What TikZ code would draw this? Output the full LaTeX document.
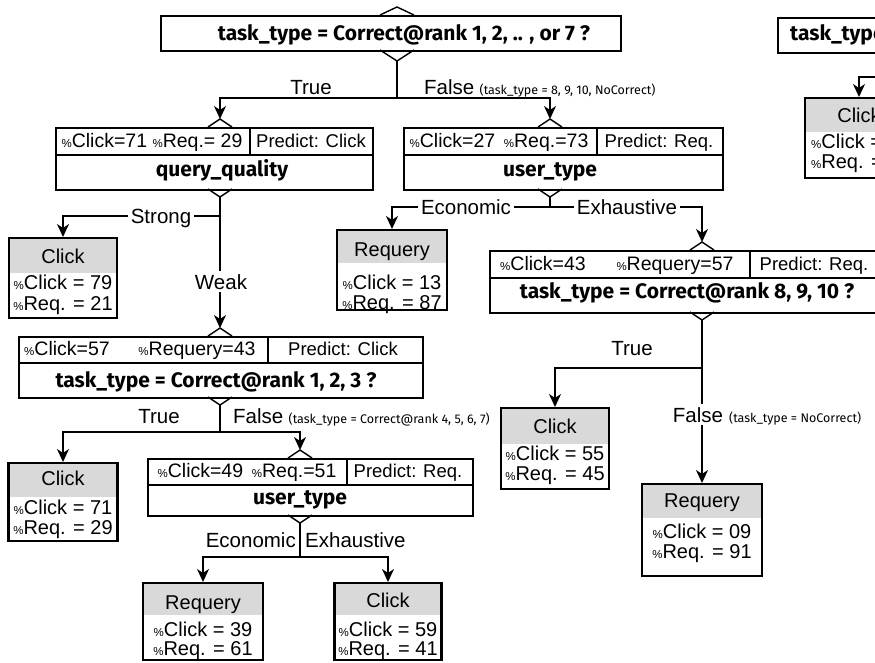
\documentclass[tikz,border=0pt]{standalone}
\usepackage{fontspec}
\setmainfont{Liberation Sans}
\newfontfamily\attrfont{Fira Sans}
\usetikzlibrary{arrows.meta}
\definecolor{leafhead}{HTML}{D9D9D9}
\newcommand{\pct}{{\fontsize{11.5}{11.5}\selectfont\%}}

\begin{document}
\begin{tikzpicture}[
  x=1pt,
  y=-1pt,
  line join=miter,
  decbox/.style={draw,line width=2.3pt,inner sep=0pt,anchor=north west},
  leafbox/.style={draw,line width=2.3pt,inner sep=0pt,anchor=north},
  divider/.style={line width=1.2pt},
  chev/.style={line width=1.4pt},
  link/.style={line width=1.8pt},
  arrow/.style={link,-{Stealth[length=13pt,width=12pt,inset=4pt]}},
  stat/.style={font=\fontsize{19.5}{22}\selectfont,inner sep=0pt,anchor=base},
  pred/.style={stat,font=\fontsize{18.5}{22}\selectfont},
  leaftext/.style={stat,font=\fontsize{20}{22}\selectfont},
  attr/.style={font=\attrfont\bfseries\fontsize{21}{24}\selectfont,inner sep=0pt,anchor=base},
  branch/.style={font=\fontsize{20.5}{22}\selectfont,inner sep=3pt,fill=white,anchor=base},
  note/.style={font=\attrfont\fontsize{12.5}{14}\selectfont,inner sep=0pt,anchor=base west}
]
  \useasboundingbox (0,0) rectangle (875,662);
  \clip (0,0) rectangle (875,662);

  % Decision boxes.
  \node[decbox,minimum width=460,minimum height=35] (root) at (160,15) {};
  \node[decbox,minimum width=317,minimum height=62] (qq) at (55,127) {};
  \node[decbox,minimum width=319,minimum height=62] (ut1) at (403,127) {};
  \node[decbox,minimum width=389,minimum height=62] (tt2) at (489,250) {};
  \node[decbox,minimum width=404,minimum height=61] (tt1) at (18,336) {};
  \node[decbox,minimum width=325,minimum height=57] (ut2) at (147,458) {};
  \node[decbox,minimum width=300,minimum height=35] (root2) at (777,17) {};

  % Stats row / predict cell split.
  \draw[divider] (55,155) -- (372,155) (250,127) -- (250,155);
  \draw[divider] (403,155) -- (722,155) (597,127) -- (597,155);
  \draw[divider] (489,278) -- (878,278) (750,250) -- (750,278);
  \draw[divider] (18,363) -- (422,363) (268,336) -- (268,363);
  \draw[divider] (147,485) -- (472,485) (347,458) -- (347,485);

  % Chevrons in and out of every decision box.
  \foreach \n/\cx/\yt/\yb/\hw/\hb in {root/397/15/50/17/11,qq/220/127/189/12/8,
      ut1/550/127/189/12/8,tt2/702/250/312/12/8,tt1/220/336/397/12/8,ut2/300/458/515/12/8} {
    \draw[chev] (\cx-\hw,\yt) -- (\cx,\yt-8) -- (\cx+\hw,\yt);
    \draw[chev] (\cx-\hw,\yb) -- (\cx,\yb+\hb) -- (\cx+\hw,\yb);
    \coordinate (\n-in) at (\cx,\yt-8);
    \coordinate (\n-out) at (\cx,\yb+\hb);
  }

  % Box texts.
  \node[attr] (root-attr) at (404,40) {task\_type = Correct@rank 1, 2, .. , or 7 ?};
  \node[attr,anchor=base west] (root2-attr) at (790,40) {task\_type};

  \node[stat] (qq-stats) at (152,147) {\pct Click=71 \pct Req.= 29};
  \node[pred] (qq-pred) at (311,147) {Predict: Click};
  \node[attr] (qq-attr) at (222,176) {query\_quality};

  \node[stat] (ut1-stats) at (499,147) {\pct Click=27 \,\pct Req.=73};
  \node[pred] (ut1-pred) at (659,147) {Predict: Req.};
  \node[attr] (ut1-attr) at (550,176) {user\_type};

  \node[stat] (tt2-click) at (543,270) {\pct Click=43};
  \node[stat] (tt2-req) at (675,270) {\pct Requery=57};
  \node[pred] (tt2-pred) at (814,270) {Predict: Req.};
  \node[attr] (tt2-attr) at (687,298) {task\_type = Correct@rank 8, 9, 10 ?};

  \node[stat] (tt1-click) at (67,355) {\pct Click=57};
  \node[stat] (tt1-req) at (197,355) {\pct Requery=43};
  \node[pred] (tt1-pred) at (343,355) {Predict: Click};
  \node[attr] (tt1-attr) at (216,387) {task\_type = Correct@rank 1, 2, 3 ?};

  \node[stat] (ut2-stats) at (247,477) {\pct Click=49 \,\pct Req.=51};
  \node[pred] (ut2-pred) at (408,477) {Predict: Req.};
  \node[attr] (ut2-attr) at (300,504) {user\_type};

  % Leaves: grey class header over the two percentages.
  \foreach \n/\cx/\w/\ya/\yh/\yb/\bh/\ba/\bb/\lab/\vclick/\vreq in {
      L1/63/108/237/273/317/263/289/310/Click/79/21,
      L2/392/110/229/263/309/256/289/309/Requery/13/87,
      L3/555/108/407/444/488/433/460/480/Click/55/45,
      L4/702/120/483/518/575/507/538/558/Requery/09/91,
      L5/63/109/462/497/540/485/514/534/Click/71/29,
      L6/203/120/582/615/659/609/636/655/Requery/39/61,
      L7/388/107/582/615/659/607/636/655/Click/59/41} {
    \fill[leafhead] (\cx-\w/2,\ya) rectangle (\cx+\w/2,\yh);
    \node[leafbox,minimum width=\w,minimum height=\yb-\ya] (\n) at (\cx,\ya) {};
    \node[leaftext] (\n-head) at (\cx,\bh) {\lab};
    \node[leaftext] (\n-click) at (\cx,\ba) {\pct Click = \vclick};
    \node[leaftext] (\n-req) at (\cx,\bb) {\pct Req. = \vreq};
  }

  % Leaf of the second tree, cut by the frame.
  \fill[leafhead] (805,97) rectangle (913,132);
  \node[leafbox,minimum width=108,minimum height=80] (L8) at (859,97) {};
  \node[leaftext] (L8-head) at (859,122) {Click};
  \node[leaftext,anchor=base west] (L8-click) at (811,148) {\pct Click =};
  \node[leaftext,anchor=base west] (L8-req) at (811,168) {\pct Req. =};

  % Branches.
  \coordinate (root-j) at (397,98);
  \draw[link] (root-out) -- (root-j);
  \draw[arrow] (root-j) -| (qq-in);
  \draw[arrow] (root-j) -| (ut1-in);
  \node[branch,fill=none] (root-true) at (311,94) {True};
  \node[branch,fill=none,anchor=base west,inner sep=0pt] (root-false) at (424,94) {False};
  \node[note] (root-note) at ([xshift=5pt]root-false.base east) {(task\_type = 8, 9, 10, NoCorrect)};

  \coordinate (qq-j) at (220,216);
  \draw[arrow] (qq-out) -- (tt1-in);
  \draw[arrow] (qq-j) -| (L1.north);
  \node[branch] (qq-strong) at (161,223) {Strong};
  \node[branch] (qq-weak) at (221,289) {Weak};

  \coordinate (ut1-j) at (550,207);
  \draw[link] (ut1-out) -- (ut1-j);
  \draw[arrow] (ut1-j) -| (L2.north);
  \draw[arrow] (ut1-j) -| (tt2-in);
  \node[branch] (ut1-eco) at (466,214) {Economic};
  \node[branch] (ut1-exh) at (627,214) {Exhaustive};

  \coordinate (tt2-j) at (702,368);
  \draw[arrow] (tt2-out) -- (L4.north);
  \draw[arrow] (tt2-j) -| (L3.north);
  \node[branch,fill=none] (tt2-true) at (632,355) {True};
  \node[branch] (tt2-false) at (698,422) {False};
  \node[note] (tt2-note) at (729,422) {(task\_type = NoCorrect)};

  \coordinate (tt1-j) at (220,432);
  \draw[link] (tt1-out) -- (tt1-j);
  \draw[arrow] (tt1-j) -| (L5.north);
  \draw[arrow] (tt1-j) -| (ut2-in);
  \node[branch,fill=none] (tt1-true) at (159,423) {True};
  \node[branch,fill=none,anchor=base west,inner sep=0pt] (tt1-false) at (233,423) {False};
  \node[note] (tt1-note) at ([xshift=5pt]tt1-false.base east) {(task\_type = Correct@rank 4, 5, 6, 7)};

  \coordinate (ut2-j) at (300,557);
  \draw[link] (ut2-out) -- (ut2-j);
  \draw[arrow] (ut2-j) -| (L6.north);
  \draw[arrow] (ut2-j) -| (L7.north);
  \node[branch,fill=none,anchor=base east,inner sep=0pt] (ut2-eco) at (296,547) {Economic};
  \node[branch,fill=none,anchor=base west,inner sep=0pt] (ut2-exh) at (305,547) {Exhaustive};

  \coordinate (r2-j) at (900,77);
  \draw[arrow] (r2-j) -| (L8.north);
\end{tikzpicture}
\end{document}
